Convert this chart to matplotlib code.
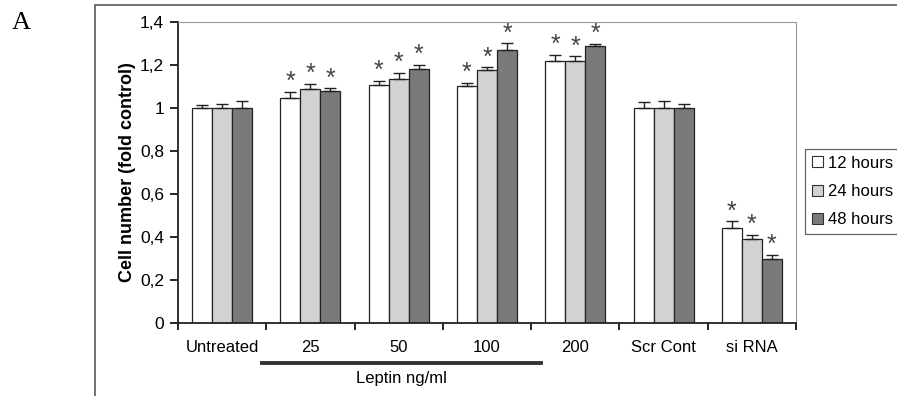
import matplotlib
matplotlib.use("Agg")
import matplotlib.pyplot as plt
import numpy as np
from matplotlib.patches import Rectangle, Patch
from matplotlib.lines import Line2D
import matplotlib.transforms as mtransforms

plt.rcParams['font.family'] = ['Liberation Sans', 'DejaVu Sans']

categories = ["Untreated", "25", "50", "100", "200", "Scr Cont", "si RNA"]
series_names = ["12 hours", "24 hours", "48 hours"]
vals_12 = [1.00, 1.045, 1.105, 1.10, 1.22, 1.00, 0.44]
vals_24 = [1.00, 1.09, 1.135, 1.175, 1.22, 1.00, 0.39]
vals_48 = [1.00, 1.08, 1.18, 1.27, 1.29, 1.00, 0.30]
err_12 = [0.012, 0.031, 0.022, 0.016, 0.028, 0.026, 0.034]
err_24 = [0.018, 0.022, 0.029, 0.014, 0.020, 0.034, 0.019]
err_48 = [0.033, 0.012, 0.020, 0.031, 0.008, 0.017, 0.016]
sig_12 = [0, 1, 1, 1, 1, 0, 1]
sig_24 = [0, 1, 1, 1, 1, 0, 1]
sig_48 = [0, 1, 1, 1, 1, 0, 1]
yticks = [0, 0.2, 0.4, 0.6, 0.8, 1.0, 1.2, 1.4]
ytick_labels = ["0", "0,2", "0,4", "0,6", "0,8", "1", "1,2", "1,4"]

colors = ["#ffffff", "#d2d2d2", "#7a7a7a"]

W, H = 897, 396
fig = plt.figure(figsize=(W / 100, H / 100), dpi=100)
ax = fig.add_axes([178 / W, (H - 323) / H, (796 - 178) / W, (323 - 22) / H])

x = np.arange(len(categories))
bw = 0.227
series = [(vals_12, err_12, sig_12), (vals_24, err_24, sig_24), (vals_48, err_48, sig_48)]
for i, (v, e, s) in enumerate(series):
    xs = x + (i - 1) * bw
    ax.bar(xs, v, width=bw, color=colors[i], edgecolor="#222222", linewidth=0.9, zorder=2)
    ax.errorbar(xs, v, yerr=[np.zeros(len(v)), e], fmt="none", ecolor="#222222",
                elinewidth=1.0, capsize=4, capthick=1.0, zorder=3)
    for xi, vi, ei, si in zip(xs, v, e, s):
        if si:
            ax.annotate("*", (xi, vi + ei), xytext=(0, 7), textcoords="offset points",
                        ha="center", va="center", fontsize=18, color="#444444")

ax.set_xlim(-0.5, len(categories) - 0.5)
ax.set_ylim(0, 1.4)
ax.set_yticks(yticks)
ax.set_yticklabels(ytick_labels, fontsize=12.5)
ax.set_xticks(x)
ax.set_xticklabels(categories, fontsize=12)
ax.tick_params(axis="x", length=0, pad=12)
ax.set_xticks(np.arange(len(categories) + 1) - 0.5, minor=True)
ax.tick_params(axis="x", which="minor", length=5, direction="out", width=1.2)
ax.tick_params(axis="y", length=6, direction="out", width=1.2, pad=4)

for side in ["top", "right"]:
    ax.spines[side].set_linestyle((0, (1, 1)))
    ax.spines[side].set_color("#999999")
    ax.spines[side].set_linewidth(0.8)
for side in ["left", "bottom"]:
    ax.spines[side].set_color("#222222")
    ax.spines[side].set_linewidth(1.3)

ax.set_ylabel("Cell number (fold control)", fontsize=13, fontweight="bold")
ax.yaxis.set_label_coords((136 - 178) / (796 - 178), 0.5)

trans = mtransforms.blended_transform_factory(ax.transData, ax.transAxes)
ax.add_line(Line2D([0.45, 3.61], [-0.133, -0.133], transform=trans, color="#333333",
                   linewidth=2.8, clip_on=False))
ax.text(2.03, -0.185, "Leptin ng/ml", transform=trans, ha="center", va="center",
        fontsize=12, clip_on=False)

handles = [Patch(facecolor=colors[i], edgecolor="#333333", linewidth=0.8) for i in range(3)]
leg = fig.legend(handles, series_names, loc="upper left",
                 bbox_to_anchor=(800 / W, 1 - 144 / H), fontsize=12,
                 handlelength=0.65, handleheight=0.65, handletextpad=0.35,
                 labelspacing=0.8, borderpad=0.4, borderaxespad=0.3,
                 fancybox=False, framealpha=1)
leg.get_frame().set_edgecolor("#666666")
leg.get_frame().set_linewidth(0.9)

fig.patches.append(Rectangle((95 / W, -0.2), 1.0, (H - 5) / H + 0.2, transform=fig.transFigure,
                             fill=False, edgecolor="#666666", linewidth=1.3))
fig.text(21 / W, 1 - 23 / H, "A", fontsize=19, family="Liberation Serif",
         ha="center", va="center")

fig.savefig("out.png", dpi=100)
